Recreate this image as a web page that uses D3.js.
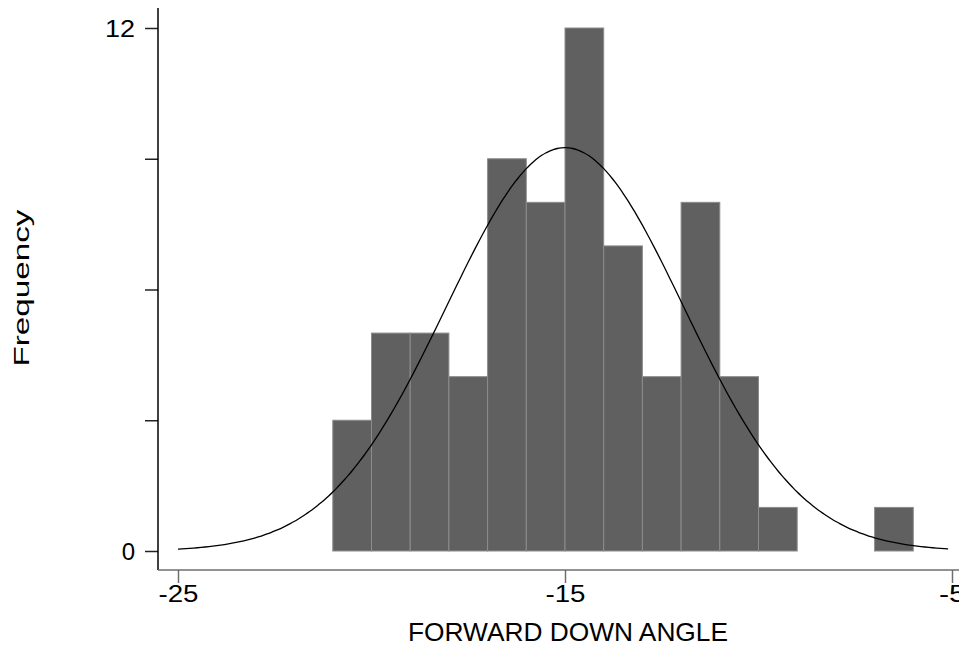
<!DOCTYPE html>
<html>
<head>
<meta charset="utf-8">
<script src="https://cdn.jsdelivr.net/npm/d3@7"></script>
<style>
  body { margin: 0; background: #fff; overflow: hidden; }
  text { font-family: "Liberation Sans", Arial, sans-serif; fill: #000; }
</style>
</head>
<body>
<div id="chart-area"></div>
<script>
// histogram bins (left edge, width 1) and frequencies
var binStarts = [-21, -20, -19, -18, -17, -16, -15, -14, -13, -12, -11, -10, -7];
var counts    = [3, 5, 5, 4, 9, 8, 12, 7, 4, 8, 4, 1, 1];
var binWidth = 1;

// fitted normal overlay
var normMean = -15;
var normSd = 3.06;
var nObs = d3.sum(counts);

var yTicks = [0, 3, 6, 9, 12];
var yLabels = { 0: "0", 12: "12" };
var xTicks = [-25, -15, -5];

var canvasWidth = 959;
var canvasHeight = 646;

var svg = d3.select("#chart-area")
    .append("svg")
        .attr("width", canvasWidth)
        .attr("height", canvasHeight)
        .style("display", "block");

var x = d3.scaleLinear()
    .domain([-25, -5])
    .range([178, 952]);

var y = d3.scaleLinear()
    .domain([0, 12])
    .range([551, 28]);

var axisX = 158;   // where the y axis sits
var axisY = 570;   // where the x axis sits

// bars
svg.selectAll("rect.bar")
    .data(binStarts)
    .enter()
    .append("rect")
        .attr("class", "bar")
        .attr("x", (d) => x(d))
        .attr("y", (d, i) => y(counts[i]))
        .attr("width", (d) => x(d + binWidth) - x(d))
        .attr("height", (d, i) => y(0) - y(counts[i]))
        .attr("fill", "#606060")
        .attr("stroke", "#8c8c8c")
        .attr("stroke-width", 1);

// normal curve
var curvePts = d3.range(-25, -5.0001, 0.1).map(v => {
    var z = (v - normMean) / normSd;
    return [v, nObs * binWidth / (normSd * Math.sqrt(2 * Math.PI)) * Math.exp(-0.5 * z * z)];
});
svg.append("path")
    .datum(curvePts)
    .attr("fill", "none")
    .attr("stroke", "#000")
    .attr("stroke-width", 1.3)
    .attr("d", d3.line().x(d => x(d[0])).y(d => y(d[1])).curve(d3.curveBasis));

// Y axis
var yAxisCall = d3.axisLeft(y)
    .tickValues(yTicks)
    .tickSize(13)
    .tickPadding(10)
    .tickFormat(d => yLabels[d] || "");
var gy = svg.append("g")
    .attr("transform", `translate(${axisX},0)`)
    .call(yAxisCall);
gy.select(".domain").remove();
gy.selectAll(".tick line").attr("stroke", "#222").attr("stroke-width", 1.5);
gy.selectAll(".tick text")
    .attr("font-size", "24px")
    .attr("font-family", "Liberation Sans, Arial, sans-serif")
    .attr("fill", "#000")
    .attr("dy", "0.36em");
gy.selectAll(".tick text").filter(d => d === 12).attr("textLength", 30).attr("lengthAdjust", "spacingAndGlyphs");
svg.append("line")
    .attr("x1", axisX).attr("x2", axisX)
    .attr("y1", 8).attr("y2", axisY)
    .attr("stroke", "#000").attr("stroke-width", 1.5);

// X axis
var xAxisCall = d3.axisBottom(x)
    .tickValues(xTicks)
    .tickSize(13)
    .tickPadding(2)
    .tickFormat(d => String(d));
var gx = svg.append("g")
    .attr("transform", `translate(0,${axisY})`)
    .call(xAxisCall);
gx.select(".domain").remove();
gx.selectAll(".tick line").attr("stroke", "#6e6e6e").attr("stroke-width", 1.5);
gx.selectAll(".tick text")
    .attr("font-size", "24px")
    .attr("font-family", "Liberation Sans, Arial, sans-serif")
    .attr("fill", "#000")
    .attr("textLength", d => d === -5 ? 27 : 40)
    .attr("lengthAdjust", "spacingAndGlyphs");
svg.append("line")
    .attr("x1", axisX).attr("x2", canvasWidth)
    .attr("y1", axisY).attr("y2", axisY)
    .attr("stroke", "#6e6e6e").attr("stroke-width", 1.5);

// X label
svg.append("text")
    .attr("x", 568)
    .attr("y", 641)
    .attr("font-size", "26px")
    .attr("text-anchor", "middle")
    .attr("textLength", 320)
    .attr("lengthAdjust", "spacingAndGlyphs")
    .text("FORWARD DOWN ANGLE");

// Y label
svg.append("text")
    .attr("transform", "translate(29,288) rotate(-90)")
    .attr("font-size", "22px")
    .attr("text-anchor", "middle")
    .attr("textLength", 157)
    .attr("lengthAdjust", "spacingAndGlyphs")
    .text("Frequency");
</script>
</body>
</html>
